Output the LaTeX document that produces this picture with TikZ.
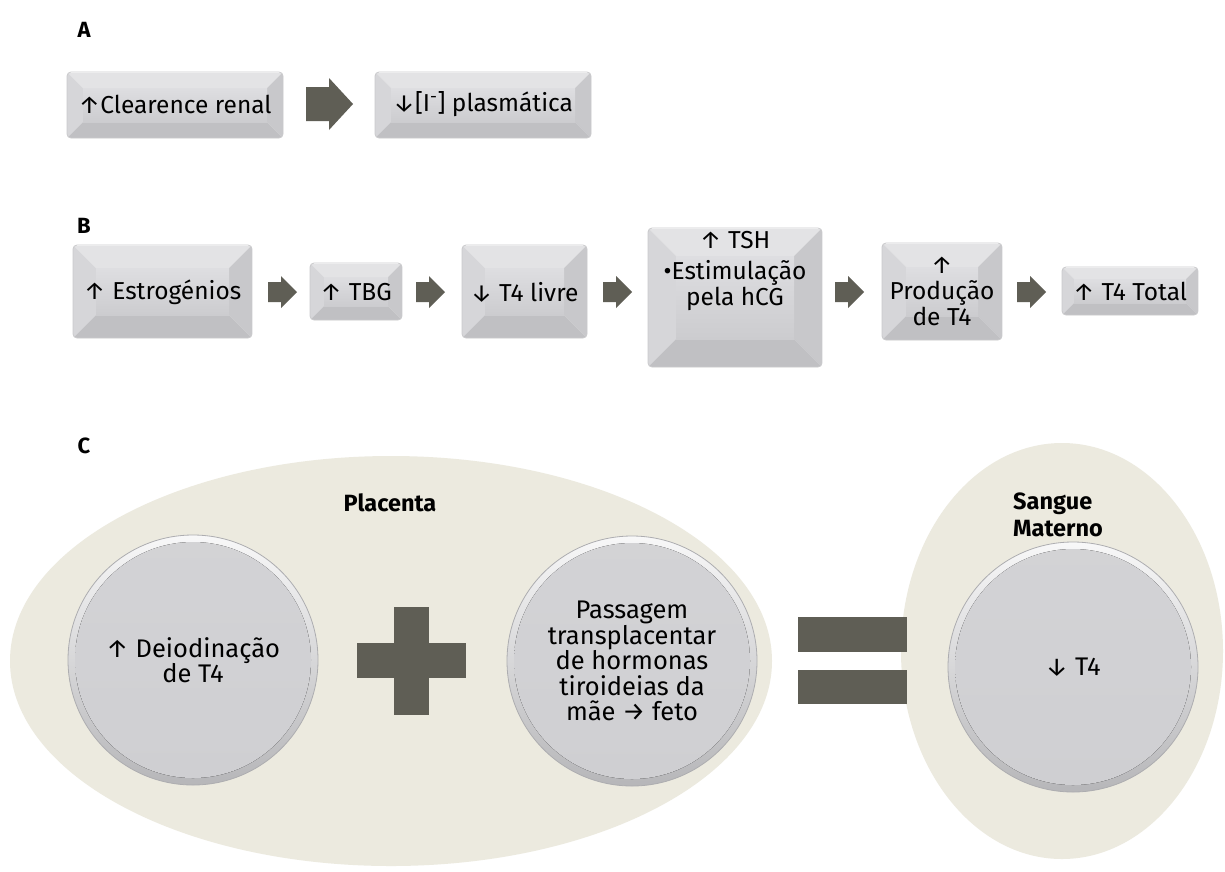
\documentclass[tikz,border=0pt]{standalone}
\usepackage{fontspec}
\setmainfont{Fira Sans}
\usetikzlibrary{calc}

\newcommand\arrUp{\char"2191\relax}
\newcommand\arrDown{\char"2193\relax}
\newcommand\arrRight{\char"2192\relax}

\definecolor{beige}{HTML}{ECEADF}
\definecolor{darkbar}{HTML}{5F5E55}
\definecolor{facetT}{HTML}{E3E3E5}
\definecolor{facetL}{HTML}{D6D6D9}
\definecolor{facetR}{HTML}{C8C8CB}
\definecolor{facetB}{HTML}{C0C0C3}
\definecolor{faceTop}{HTML}{DEDEE1}
\definecolor{faceBot}{HTML}{CCCCCF}
\definecolor{boxline}{HTML}{CACACC}
\definecolor{discrim}{HTML}{ADADB0}
\definecolor{discface}{HTML}{CFCFD2}

\tikzset{
  body/.style={font=\fontsize{24.5}{26}\selectfont, align=center, inner sep=0pt},
  panel/.style={font=\bfseries\fontsize{22}{26}\selectfont, inner sep=0pt},
  heading/.style={font=\bfseries\fontsize{23.5}{27}\selectfont, inner sep=0pt},
  boxframe/.style={draw=none, fill=none, inner sep=0pt},
  disc/.style={circle, minimum size=250pt, inner sep=0pt, draw=discrim, line width=0.8pt,
    top color=white!85!discface, bottom color=discface!88!black,
    path picture={\fill[top color=discface!92!white, bottom color=discface]
      (path picture bounding box.center) circle (118pt);},
    font=\fontsize{25.5}{25.5}\selectfont, align=center},
  bar/.style={fill=darkbar},
  blob/.style={fill=beige}
}

% bevelled button: name, x1, y1, x2, y2, bevel inset, text y, text
\newcommand\bevelbox[8]{%
  \begin{scope}
    \path[clip, rounded corners=4pt] (#2,#3) rectangle (#4,#5);
    \fill[facetT] (#2,#3) -- (#4,#3) -- ({#4-#6},{#3+#6}) -- ({#2+#6},{#3+#6}) -- cycle;
    \fill[facetL] (#2,#3) -- ({#2+#6},{#3+#6}) -- ({#2+#6},{#5-#6}) -- (#2,#5) -- cycle;
    \fill[facetR] (#4,#3) -- (#4,#5) -- ({#4-#6},{#5-#6}) -- ({#4-#6},{#3+#6}) -- cycle;
    \fill[facetB] (#2,#5) -- (#4,#5) -- ({#4-#6},{#5-#6}) -- ({#2+#6},{#5-#6}) -- cycle;
    \path[top color=faceTop, bottom color=faceBot] ({#2+#6},{#3+#6}) rectangle ({#4-#6},{#5-#6});
    \draw[white, line width=1.5pt] (#2,#3) -- (#4,#3);
  \end{scope}
  \draw[boxline, line width=0.8pt, rounded corners=4pt] (#2,#3) rectangle (#4,#5);
  \node[boxframe, minimum width={#4-#2}, minimum height={#5-#3}] (#1) at ({(#2+#4)/2},{(#3+#5)/2}) {};
  \node[body] (#1-text) at ({(#2+#4)/2},#7) {#8};
}

% block arrow: left x, mid y, length, shaft half height, head half height, head length
\newcommand\blockarrow[6]{%
  \fill[bar] (#1,{#2-#4}) -- ({#1+#3-#6},{#2-#4}) -- ({#1+#3-#6},{#2-#5}) -- ({#1+#3},#2)
    -- ({#1+#3-#6},{#2+#5}) -- ({#1+#3-#6},{#2+#4}) -- (#1,{#2+#4}) -- cycle;
}

\begin{document}
\begin{tikzpicture}[x=1pt, y=-1pt]
\useasboundingbox[fill=white] (0,0) rectangle (1225,871);

% ---- A ----
\node[panel] (labA) at (84,30) {A};
\bevelbox{clear}{67}{72}{283}{138}{16}{104}{\arrUp Clearence renal}
\blockarrow{306}{104}{47}{17}{26}{24}
\bevelbox{iodo}{375}{72}{591}{138}{16}{104}{\arrDown[I\textsuperscript{-}] plasmática}

% ---- B ----
\node[panel] (labB) at (84,226) {B};
\bevelbox{estro}{73}{245}{252}{338}{23}{292}{\arrUp\ Estrogénios}
\blockarrow{268}{292}{29}{10}{16}{16}
\bevelbox{tbg}{310}{263}{402}{320}{14}{292}{\arrUp\ TBG}
\blockarrow{416}{292}{29}{10}{16}{16}
\bevelbox{t4l}{462}{245}{587}{338}{23}{292}{\arrDown\ T4 livre}
\blockarrow{603}{292}{29}{10}{16}{16}
\bevelbox{tsh}{648}{228}{822}{367}{28}{271}{\arrUp\ TSH\\[5pt]•Estimulação\\pela hCG}
\blockarrow{835}{292}{29}{10}{16}{16}
\bevelbox{prod}{882}{243}{1002}{340}{24}{291}{\arrUp\\Produção\\de T4}
\blockarrow{1017}{292}{29}{10}{16}{16}
\bevelbox{t4t}{1062}{267}{1198}{315}{12}{291}{\arrUp\ T4 Total}

% ---- C ----
\node[panel] (labC) at (84,446) {C};
\path[blob] (391,661) ellipse [x radius=381, y radius=205];
\path[blob] (1062,651) ellipse [x radius=161, y radius=208];
\node[heading] (plac) at (390,503) {Placenta};
\node[heading, align=left, anchor=west] (sang) at (1013,515) {Sangue\\Materno};

\node[disc] (deio) at (193,660) {\arrUp\ Deiodinação\\de T4};
\node[disc] (pass) at (632,661) {Passagem\\transplacentar\\de hormonas\\tiroideias da\\mãe \arrRight\ feto};
\node[disc] (t4m) at (1073,667) {\arrDown\ T4};

% plus sign between the two placental discs
\fill[bar] (357,643) rectangle (466,678);
\fill[bar] (394,607) rectangle (429,715);
% equals sign before the maternal disc
\fill[bar] (798,617) rectangle (907,652);
\fill[bar] (798,670) rectangle (907,704);
\end{tikzpicture}
\end{document}
